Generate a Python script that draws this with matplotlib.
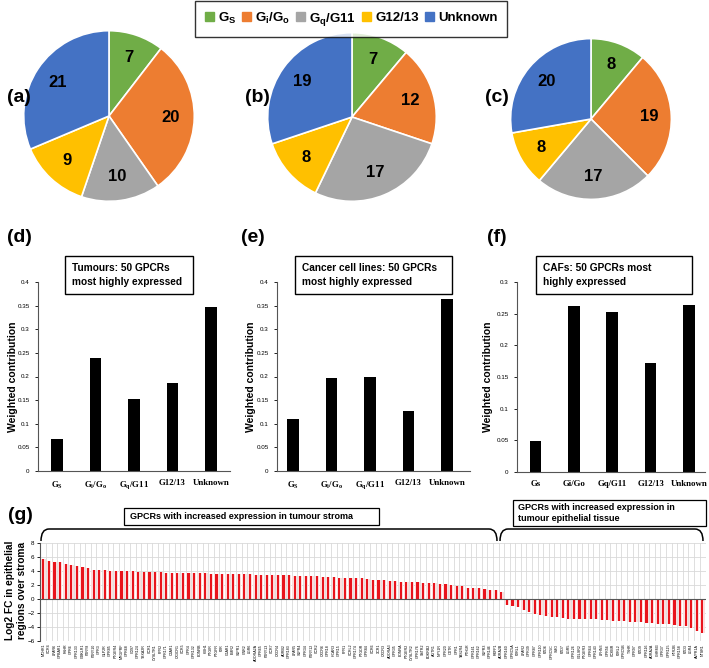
import numpy as np
import matplotlib
matplotlib.use("Agg")
import matplotlib.pyplot as plt
from matplotlib.patches import Patch, Rectangle, PathPatch
from matplotlib.path import Path

plt.rcParams["font.family"] = ["Liberation Sans", "DejaVu Sans"]
plt.rcParams["mathtext.fontset"] = "custom"
plt.rcParams["mathtext.rm"] = "Liberation Sans:bold"
plt.rcParams["mathtext.cal"] = "Liberation Serif:bold"

# ---- data
legend_labels = [r"$\mathrm{G_S}$", r"$\mathrm{G_i/G_o}$", r"$\mathrm{G_q/G11}$", "G12/13", "Unknown"]
pie_colors = ["#70AD47", "#ED7D31", "#A5A5A5", "#FFC000", "#4472C4"]
pie_a = [7, 20, 10, 9, 21]
pie_b = [7, 12, 17, 8, 19]
pie_c = [8, 19, 17, 8, 20]

bar_labels_de = [r"$\mathcal{G_S}$", r"$\mathcal{G_i/G_o}$", r"$\mathcal{G_q/G11}$", "G12/13", "Unknown"]
bar_labels_f = ["Gs", "Gi/Go", "Gq/G11", "G12/13", "Unknown"]
tumours = [0.068, 0.240, 0.153, 0.186, 0.348]
cell_lines = [0.110, 0.196, 0.200, 0.128, 0.363]
cafs = [0.049, 0.262, 0.253, 0.172, 0.263]

genes_up = ["MCHR1", "CCR4", "LPAR6", "GPBAR1", "FSHR", "GPR6", "GPR133", "CMKLR1", "P2RY8",
            "P2RY10", "GPR3", "GLP2R", "GPR85", "PTGER4", "MRGPRF", "GPR68", "CD97", "GPR124",
            "TBXA2R", "CCR1", "CYSLTR1", "FPR2", "GPR171", "C3AR1", "CX3CR1", "CCR5", "GPR4",
            "GPR132", "EDNRB", "HRH1", "PTGIR", "PTGFR", "F2R", "C5AR1", "EMR2", "S1PR1",
            "CNR2", "LGR6", "ADORA2A", "GPR65", "P2RY13", "CCR7", "CXCR4", "ADRB2", "GPR183",
            "LPAR5", "S1PR4", "GPR34", "P2RY12", "CCR2", "CXCR6", "GPR18", "HCAR3", "GPR15",
            "FPR1", "CCRL2", "GPR174", "PTGDR", "GPR84", "CCR6", "XCR1", "CXCR3", "ADORA3",
            "GPR35", "EDNRA", "PTGER2", "CYSLTR2", "GPR176", "SSTR2", "BDKRB2", "AGTR1",
            "NPY1R", "GPR20", "OXTR", "GPR1", "TAS2R4", "PTH1R", "GPR161", "GPR162", "S1PR3",
            "GPR146", "RXFP1", "ADRA2B"]
genes_down = ["GPR160", "GPRC5A", "F2RL1", "LPAR2", "GPR39", "GPR87", "GPR110", "FZD6", "GPRC5C",
              "SMO", "FZD7", "LGR5", "GPR126", "CELSR2", "PTGER3", "GPR64", "GPR143", "LPHN3",
              "GPR56", "CCKBR", "F2RL2", "GPRC5B", "TSHR", "GPR97", "FZD9", "GPR116", "ADRA2A",
              "CHRM3", "GPR37", "GPR115", "HTR2B", "GPR158", "FZD3", "LGR4", "AVPR1A", "NTSR1"]
fc_up = [5.65, 5.40, 5.35, 5.30, 4.95, 4.90, 4.75, 4.60, 4.45, 4.10, 4.10, 4.10, 4.05, 4.00,
         4.00, 3.95, 3.95, 3.90, 3.90, 3.85, 3.85, 3.80, 3.75, 3.75, 3.72, 3.70,
         3.69, 3.68, 3.66, 3.66, 3.64, 3.62, 3.61, 3.60, 3.58, 3.57, 3.55, 3.52, 3.50, 3.49,
         3.47, 3.45, 3.42, 3.40, 3.38, 3.35, 3.33, 3.30, 3.27, 3.24, 3.20, 3.15, 3.10, 3.02,
         2.98, 2.97, 2.96, 2.95, 2.81, 2.76, 2.71, 2.67, 2.62, 2.57, 2.48, 2.43, 2.43, 2.38,
         2.33, 2.29, 2.24, 2.14, 2.10, 1.95, 1.90, 1.86, 1.62, 1.57, 1.52, 1.38, 1.29, 1.29, 0.95]
fc_down = [-0.86, -1.00, -1.20, -1.60, -1.80, -2.10, -2.30, -2.40, -2.50, -2.50, -2.70, -2.80,
           -2.80, -2.85, -2.85, -2.90, -2.90, -2.95, -3.00, -3.10, -3.10, -3.20, -3.25, -3.30,
           -3.35, -3.40, -3.45, -3.50, -3.60, -3.60, -3.70, -3.80, -3.90, -4.20, -4.60, -4.90]

W, H = 709, 668
fig = plt.figure(figsize=(W / 100, H / 100), dpi=100)


def px_axes(x0, y0, x1, y1):
    # axes from pixel box (top-left origin)
    return fig.add_axes([x0 / W, 1 - y1 / H, (x1 - x0) / W, (y1 - y0) / H])


# ---- pies
def draw_pie(ax, vals):
    wedges, _ = ax.pie(vals, colors=pie_colors, startangle=90, counterclock=False, radius=1,
                       wedgeprops=dict(edgecolor="white", linewidth=1.2))
    for w, v in zip(wedges, vals):
        ang = np.deg2rad((w.theta1 + w.theta2) / 2)
        ax.text(0.72 * np.cos(ang), 0.72 * np.sin(ang), str(v), ha="center", va="center",
                fontsize=12, fontweight="bold")
    ax.set_xlim(-1.02, 1.02)
    ax.set_ylim(-1.02, 1.02)


for (cx, cy, r), vals in zip([(109, 116, 87), (352, 117, 86), (591, 119, 82)], [pie_a, pie_b, pie_c]):
    draw_pie(px_axes(cx - r, cy - r, cx + r, cy + r), vals)


# ---- bar panels
def draw_bars(ax, vals, ymax, labels, xlim):
    x = np.arange(len(vals))
    ax.bar(x, vals, width=0.3, color="black")
    ax.set_xlim(*xlim)
    ax.set_ylim(0, ymax)
    ticks = np.arange(0, ymax + 1e-9, 0.05)
    ax.set_yticks(ticks)
    ax.set_yticklabels([f"{t:g}" for t in ticks], fontsize=4.5)
    ax.set_xticks(x)
    ax.set_xticklabels(labels, fontsize=6.3, fontweight="bold", family="Liberation Serif")
    ax.tick_params(axis="x", length=0, pad=6)
    ax.tick_params(axis="y", length=2, width=0.6, pad=4)
    for s in ("top", "right"):
        ax.spines[s].set_visible(False)
    ax.spines["left"].set_color("#555555")
    ax.spines["bottom"].set_color("#555555")


draw_bars(px_axes(38, 282, 230, 471), tumours, 0.4, bar_labels_de, (-0.5, 4.5))
draw_bars(px_axes(277, 282, 470, 471), cell_lines, 0.4, bar_labels_de, (-0.42, 4.6))
draw_bars(px_axes(517, 282, 705, 472), cafs, 0.3, bar_labels_f, (-0.48, 4.42))

for xx in (13, 251, 488):
    fig.text(xx / W, 1 - 377 / H, "Weighted contribution", rotation=90, ha="center", va="center",
             fontsize=7.5, fontweight="bold")

# ---- panel g
fc = fc_up + fc_down
genes = genes_up + genes_down
xg = np.arange(len(fc))
axg = px_axes(40, 543, 706, 641)
axg.bar(xg, fc, width=0.8, color="#fbdcdc", zorder=2)
axg.bar(xg, fc, width=0.38, color="#e8141c", zorder=3)
axg.set_xlim(-0.6, len(fc) - 0.35)
axg.set_ylim(-6, 8)
axg.set_yticks(range(-6, 9, 2))
axg.tick_params(axis="y", labelsize=4.5, length=2, width=0.6, pad=2)
axg.set_xticks(xg)
axg.set_xticklabels(genes, rotation=90, fontsize=2.6)
axg.tick_params(axis="x", length=0, pad=2)
axg.set_xticks(xg[:-1] + 0.5, minor=True)
axg.tick_params(axis="x", which="minor", length=0)
axg.grid(True, axis="x", which="minor", color="#d9d9d9", lw=0.6, zorder=0)
axg.grid(True, axis="y", which="major", color="#d9d9d9", lw=0.6, zorder=0)
axg.axhline(0, color="#555555", lw=0.8, zorder=4)
axg.set_axisbelow(True)
for s in ("top", "right", "bottom"):
    axg.spines[s].set_visible(False)
axg.spines["left"].set_color("#555555")
fig.text(16 / W, 1 - 590 / H, "Log2 FC in epithelial\nregions over stroma", rotation=90,
         ha="center", va="center", fontsize=7.3, fontweight="bold", linespacing=1.2)

# ---- overlay: legend, labels, boxes, brackets
ov = fig.add_axes([0, 0, 1, 1], zorder=10)
ov.set_xlim(0, W)
ov.set_ylim(H, 0)
ov.axis("off")

handles = [Patch(color=c) for c in pie_colors]
leg = fig.legend(handles, legend_labels, loc="center", bbox_to_anchor=(351 / W, 1 - 19 / H), ncol=5,
                 frameon=True, fancybox=False, edgecolor="black", prop=dict(weight="bold", size=9.5),
                 handlelength=0.7, handleheight=0.7, handletextpad=0.3, columnspacing=0.45,
                 borderpad=0.75)
leg.get_frame().set_linewidth(1.0)

for lab, (x, y) in zip(["(a)", "(b)", "(c)", "(d)", "(e)", "(f)", "(g)"],
                       [(19, 98), (257, 98), (497, 98), (19, 238), (253, 238), (497, 238), (20, 515)]):
    ov.text(x, y, lab, ha="center", va="center", fontsize=14, fontweight="bold")

for (x0, x1), txt in zip([(65, 193), (295, 452), (536, 692)],
                         ["Tumours: 50 GPCRs\nmost highly expressed",
                          "Cancer cell lines: 50 GPCRs\nmost highly expressed",
                          "CAFs: 50 GPCRs most\nhighly expressed"]):
    ov.add_patch(Rectangle((x0, 256), x1 - x0, 38, facecolor="white", edgecolor="black", lw=1.0))
    ov.text(x0 + 7, 275, txt, ha="left", va="center", fontsize=7.3, fontweight="bold", linespacing=1.4)


def bracket(x0, x1, ytop, ybot):
    verts = [(x0, ybot), (x0, ytop), (x0 + 8, ytop), (x1 - 8, ytop), (x1, ytop), (x1, ybot)]
    codes = [Path.MOVETO, Path.CURVE3, Path.CURVE3, Path.LINETO, Path.CURVE3, Path.CURVE3]
    ov.add_patch(PathPatch(Path(verts, codes), facecolor="none", edgecolor="black", lw=1.1))


bracket(41, 497, 529, 541)
bracket(500, 703, 529, 541)
ov.add_patch(Rectangle((124, 508), 255, 17, facecolor="white", edgecolor="black", lw=0.9))
ov.text(130, 516.5, "GPCRs with increased expression in tumour stroma", ha="left", va="center",
        fontsize=6.5, fontweight="bold")
ov.add_patch(Rectangle((513, 500), 193, 26, facecolor="white", edgecolor="black", lw=0.9))
ov.text(518, 513, "GPCRs with increased expression in\ntumour epithelial tissue", ha="left",
        va="center", fontsize=6.5, fontweight="bold", linespacing=1.3)

fig.savefig("out.png", dpi=100)
